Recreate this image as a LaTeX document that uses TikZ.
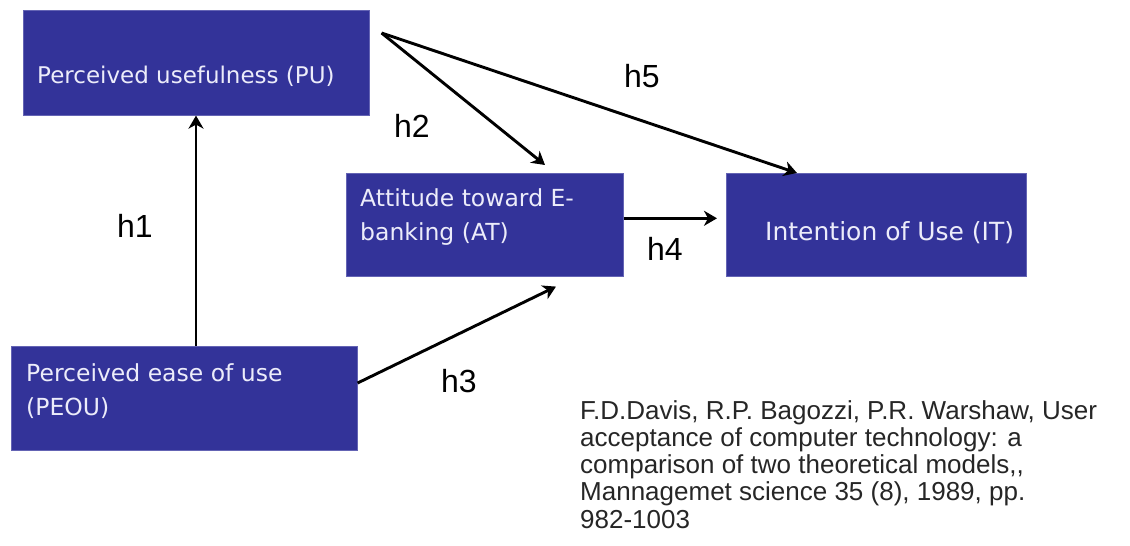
\documentclass[tikz,border=0pt]{standalone}
\usepackage{fontspec}
\setmainfont{Liberation Sans}
\newfontfamily\boxfont{DejaVu Sans}
\usetikzlibrary{arrows.meta}
\definecolor{boxblue}{RGB}{51,51,153}
\definecolor{boxedge}{RGB}{100,100,180}
\definecolor{boxtextc}{RGB}{236,236,250}
\tikzset{
  model/.style={draw=boxedge, line width=0.6pt, fill=boxblue, anchor=north west, inner sep=0pt},
  modeltext/.style={text=boxtextc, font={\boxfont\fontsize{23.5}{34}\selectfont}, align=left, inner sep=0pt, anchor=north west},
  hlabel/.style={font={\fontsize{32}{36}\selectfont}, inner sep=0pt, anchor=base west},
  link/.style={line width=2.9pt, -{Stealth[length=13pt,width=15pt,inset=4pt]}},
  cite/.style={font={\fontsize{26}{27.3}\selectfont}, align=left, inner sep=0pt, anchor=north west, text=black!85}
}
\begin{document}
\begin{tikzpicture}[x=1pt,y=-1pt]
\useasboundingbox (0,0) rectangle (1130,546);
% boxes
\node[model, minimum width=346pt, minimum height=105pt] (pu) at (23,10) {};
\node[model, minimum width=277pt, minimum height=103pt] (at) at (346,173) {};
\node[model, minimum width=300pt, minimum height=103pt] (it) at (726,173) {};
\node[model, minimum width=346pt, minimum height=104pt] (peou) at (11,346) {};
% box texts
\node[modeltext] (putext) at (37,66) {\fontsize{23}{34}\selectfont Perceived usefulness (PU)};
\node[modeltext] (attext) at (360,188) {Attitude toward E-\\banking (AT)};
\node[modeltext] (ittext) at (765,221) {\fontsize{25}{34}\selectfont Intention of Use (IT)};
\node[modeltext] (peoutext) at (26,363) {Perceived ease of use\\(PEOU)};
% connectors
\coordinate (src) at ([xshift=12pt,yshift=-23pt]pu.north east);
\draw[link] ([xshift=185pt]peou.north west) -- ([xshift=173pt]pu.south west);
\draw[link] (src) -- ([xshift=199pt,yshift=8pt]at.north west);
\draw[link] (src) -- ([xshift=71pt]it.north west);
\draw[link] ([yshift=6.5pt]at.east) -- ([xshift=-9pt,yshift=6.5pt]it.west);
\draw[link] ([yshift=-37pt]peou.north east) -- ([xshift=210pt,yshift=-10pt]at.south west);
% labels
\node[hlabel] (h1) at (117,237) {h1};
\node[hlabel] (h2) at (394,137) {h2};
\node[hlabel] (h5) at (624,87) {h5};
\node[hlabel] (h4) at (647,260) {h4};
\node[hlabel] (h3) at (441,392) {h3};
% citation
\node[cite] (ref) at (580,400) {F.D.Davis, R.P. Bagozzi, P.R. Warshaw, User\\acceptance of computer technology: a\\comparison of two theoretical models,{},\\Mannagemet science 35 (8), 1989, pp.\\982-1003};
\end{tikzpicture}
\end{document}
